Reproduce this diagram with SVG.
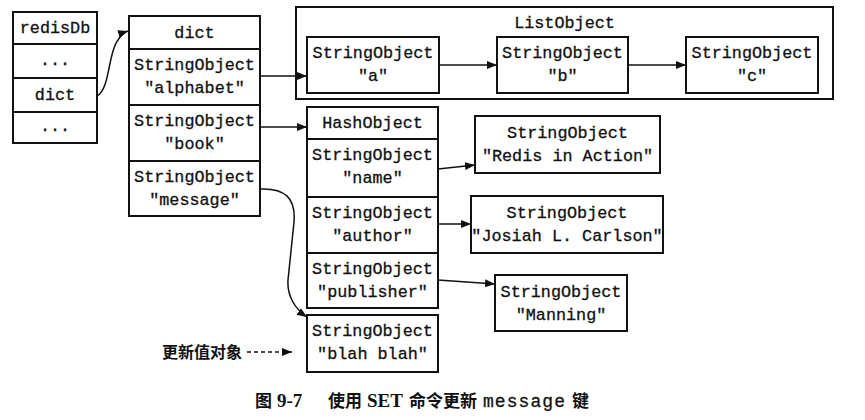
<svg xmlns="http://www.w3.org/2000/svg" width="865" height="420" viewBox="0 0 865 420">
<style>
.b{fill:#fff;stroke:#111;stroke-width:2}
.l{stroke:#111;stroke-width:2}
.m{font-family:"Liberation Mono","DejaVu Sans Mono",monospace;font-size:16.8px;text-anchor:middle;fill:#111;stroke:#111;stroke-width:0.3}
.c{fill:none;stroke:#111;stroke-width:1.5}
.cap{font-family:"Liberation Serif","Noto Sans CJK SC",serif;font-size:19px;font-weight:bold;fill:#111}
.cjk{font-family:"Noto Sans CJK SC",sans-serif;font-size:17px;font-weight:bold}
</style>
<defs>
<marker id="ah" markerUnits="userSpaceOnUse" markerWidth="10" markerHeight="8" refX="10" refY="4" orient="auto">
<path d="M0,0 L10,4 L0,8 z" fill="#111"/>
</marker>
</defs>
<rect width="865" height="420" fill="#fff"/>

<g id="redisDb">
<rect class="b" x="13" y="12" width="84" height="131"/>
<line class="l" x1="13" y1="44" x2="97" y2="44"/>
<line class="l" x1="13" y1="78" x2="97" y2="78"/>
<line class="l" x1="13" y1="112" x2="97" y2="112"/>
<text class="m" x="55" y="33">redisDb</text>
<text class="m" x="55" y="65">...</text>
<text class="m" x="55" y="100">dict</text>
<text class="m" x="55" y="131">...</text>
</g>

<g id="dict">
<rect class="b" x="129" y="16" width="131" height="200"/>
<line class="l" x1="129" y1="49" x2="260" y2="49"/>
<line class="l" x1="129" y1="105" x2="260" y2="105"/>
<line class="l" x1="129" y1="161" x2="260" y2="161"/>
<text class="m" x="194.5" y="38">dict</text>
<text class="m" x="194.5" y="70">StringObject</text>
<text class="m" x="194.5" y="93">"alphabet"</text>
<text class="m" x="194.5" y="126">StringObject</text>
<text class="m" x="194.5" y="149">"book"</text>
<text class="m" x="194.5" y="182">StringObject</text>
<text class="m" x="194.5" y="205">"message"</text>
</g>

<g id="listObject">
<rect class="b" x="296" y="7" width="537" height="92"/>
<text class="m" x="564.5" y="28">ListObject</text>
</g>
<g id="strA">
<rect class="b" x="307" y="37" width="132" height="56"/>
<text class="m" x="373" y="58">StringObject</text>
<text class="m" x="373" y="81">"a"</text>
</g>
<g id="strB">
<rect class="b" x="497" y="37" width="131" height="56"/>
<text class="m" x="562.5" y="58">StringObject</text>
<text class="m" x="562.5" y="81">"b"</text>
</g>
<g id="strC">
<rect class="b" x="686" y="37" width="132" height="56"/>
<text class="m" x="752" y="58">StringObject</text>
<text class="m" x="752" y="81">"c"</text>
</g>

<g id="hashObject">
<rect class="b" x="307" y="107" width="131" height="201"/>
<line class="l" x1="307" y1="139" x2="438" y2="139"/>
<line class="l" x1="307" y1="197" x2="438" y2="197"/>
<line class="l" x1="307" y1="253" x2="438" y2="253"/>
<text class="m" x="372.5" y="128">HashObject</text>
<text class="m" x="372.5" y="160">StringObject</text>
<text class="m" x="372.5" y="183">"name"</text>
<text class="m" x="372.5" y="218">StringObject</text>
<text class="m" x="372.5" y="241">"author"</text>
<text class="m" x="372.5" y="274">StringObject</text>
<text class="m" x="372.5" y="297">"publisher"</text>
</g>

<g id="blah">
<rect class="b" x="307" y="315" width="131" height="57"/>
<text class="m" x="372.5" y="336">StringObject</text>
<text class="m" x="372.5" y="359">"blah blah"</text>
</g>

<g id="redisInAction">
<rect class="b" x="475" y="116" width="185" height="57"/>
<text class="m" x="567.5" y="138">StringObject</text>
<text class="m" x="567.5" y="161">"Redis in Action"</text>
</g>
<g id="josiah">
<rect class="b" x="471" y="196" width="192" height="57"/>
<text class="m" x="567" y="218">StringObject</text>
<text class="m" x="567" y="241">"Josiah L. Carlson"</text>
</g>
<g id="manning">
<rect class="b" x="495" y="275" width="132" height="56"/>
<text class="m" x="561" y="297">StringObject</text>
<text class="m" x="561" y="320">"Manning"</text>
</g>

<g id="connectors">
<path class="c" d="M97,96 C110,90 108,52 118,40 C121,35 125,32 128,31" marker-end="url(#ah)"/>
<line class="c" x1="260" y1="76" x2="307" y2="76" marker-end="url(#ah)"/>
<line class="c" x1="439" y1="65" x2="497" y2="65" marker-end="url(#ah)"/>
<line class="c" x1="628" y1="65" x2="686" y2="65" marker-end="url(#ah)"/>
<line class="c" x1="260" y1="127" x2="307" y2="127" marker-end="url(#ah)"/>
<line class="c" x1="438" y1="169" x2="475" y2="165" marker-end="url(#ah)"/>
<line class="c" x1="438" y1="224" x2="471" y2="224" marker-end="url(#ah)"/>
<line class="c" x1="438" y1="280" x2="495" y2="284" marker-end="url(#ah)"/>
<path class="c" d="M260,189 C285,188 296,198 294,222 L288,280 C287,296 295,309 307,317" marker-end="url(#ah)"/>
<line class="c" x1="247" y1="352" x2="292" y2="352" stroke-dasharray="4,3" marker-end="url(#ah)"/>
</g>

<g id="label">
<text x="162" y="358" font-family="Noto Sans CJK SC,sans-serif" font-size="16" font-weight="bold" fill="#111">更新值对象</text>
</g>

<g id="caption">
<text class="cap cjk" x="255" y="407">图</text>
<text class="cap" x="277" y="407">9-7</text>
<text class="cap cjk" x="328" y="407">使用</text>
<text class="cap" x="367" y="407">SET</text>
<text class="cap cjk" x="409" y="407">命令更新</text>
<text x="483" y="407" font-family="Liberation Mono,monospace" font-size="18" fill="#111" stroke="#111" stroke-width="0.3" textLength="82" lengthAdjust="spacing">message</text>
<text class="cap cjk" x="572" y="407">键</text>
</g>
</svg>
